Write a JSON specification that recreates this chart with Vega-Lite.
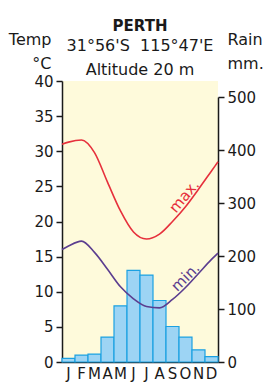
{
  "$schema": "https://vega.github.io/schema/vega-lite/v6.json",
  "width": 156,
  "height": 281,
  "autosize": "none",
  "padding": {"left": 62, "top": 81, "right": 53, "bottom": 22},
  "background": "white",
  "config": {
    "view": {"fill": "#FEFADB", "stroke": null},
    "font": "DejaVu Sans"
  },
  "title": {
    "text": "PERTH",
    "subtitle": ["31°56'S\u00a0\u00a0115°47'E", "Altitude 20\u00a0m"],
    "anchor": "middle",
    "frame": "group",
    "font": "DejaVu Sans",
    "fontSize": 15,
    "fontWeight": "bold",
    "color": "#1a1a1a",
    "subtitleFont": "DejaVu Sans",
    "subtitleFontSize": 16,
    "subtitleColor": "#1a1a1a",
    "subtitleLineHeight": 24,
    "subtitlePadding": 4,
    "offset": -47
  },
  "datasets": {
    "rain": [
      {"month": "Jan", "rain": 7},
      {"month": "Feb", "rain": 13},
      {"month": "Mar", "rain": 15},
      {"month": "Apr", "rain": 47},
      {"month": "May", "rain": 106},
      {"month": "Jun", "rain": 173},
      {"month": "Jul", "rain": 164},
      {"month": "Aug", "rain": 116},
      {"month": "Sep", "rain": 67},
      {"month": "Oct", "rain": 47},
      {"month": "Nov", "rain": 23},
      {"month": "Dec", "rain": 10}
    ],
    "temp": [
      {"t": 0, "tmax": 31.0, "tmin": 16.0},
      {"t": 0.5, "tmax": 31.3, "tmin": 16.5},
      {"t": 1.5, "tmax": 31.6, "tmin": 17.2},
      {"t": 2.5, "tmax": 29.8, "tmin": 15.6},
      {"t": 3.5, "tmax": 25.6, "tmin": 13.2},
      {"t": 4.5, "tmax": 21.5, "tmin": 10.7},
      {"t": 5.5, "tmax": 18.5, "tmin": 9.0},
      {"t": 6.5, "tmax": 17.5, "tmin": 7.9},
      {"t": 7.5, "tmax": 18.2, "tmin": 7.7},
      {"t": 8.5, "tmax": 20.0, "tmin": 8.9},
      {"t": 9.5, "tmax": 22.1, "tmin": 10.6},
      {"t": 10.5, "tmax": 24.6, "tmin": 12.6},
      {"t": 11.5, "tmax": 27.2, "tmin": 14.6},
      {"t": 12, "tmax": 28.5, "tmin": 15.5}
    ],
    "labels": [
      {"t": 9.4, "temp": 23.6, "label": "max.", "series": "tmax"},
      {"t": 9.5, "temp": 12.1, "label": "min.", "series": "tmin"}
    ]
  },
  "resolve": {"scale": {"x": "independent", "y": "independent"}, "axis": {"x": "independent", "y": "independent"}},
  "layer": [
    {
      "data": {"name": "rain"},
      "mark": {"type": "bar", "fill": "#9DD4F4", "stroke": "#1BA1E2", "strokeWidth": 1.2},
      "encoding": {
        "x": {
          "field": "month", "type": "ordinal", "sort": null,
          "scale": {"paddingInner": 0, "paddingOuter": 0},
          "axis": {
            "title": null, "labelAngle": 0, "ticks": false, "labelOverlap": false,
            "labelExpr": "substring(datum.label, 0, 1)",
            "labelFontSize": 15, "labelColor": "#1a1a1a", "labelPadding": 4,
            "domainColor": "#1a1a1a", "domainWidth": 1.5
          }
        },
        "y": {
          "field": "rain", "type": "quantitative",
          "scale": {"domain": [0, 500], "range": [281, 16], "nice": false},
          "axis": {
            "orient": "right", "values": [0, 100, 200, 300, 400, 500], "grid": false, "labelOverlap": false,
            "labelFontSize": 15, "labelColor": "#1a1a1a", "labelPadding": 3,
            "tickSize": 6, "tickColor": "#1a1a1a", "tickWidth": 1.5,
            "domainColor": "#1a1a1a", "domainWidth": 1.5,
            "title": ["Rain", "mm."], "titleAngle": 0, "titleAlign": "left",
            "titleBaseline": "alphabetic", "titleX": 9, "titleY": -37,
            "titleLineHeight": 24, "titleFontSize": 16, "titleFontWeight": "normal",
            "titleColor": "#1a1a1a"
          }
        }
      }
    },
    {
      "encoding": {
        "x": {"field": "t", "type": "quantitative", "scale": {"domain": [0, 12], "nice": false}, "axis": null},
        "y": {
          "field": "temp", "type": "quantitative",
          "scale": {"domain": [0, 40], "nice": false},
          "axis": {
            "orient": "left", "values": [0, 5, 10, 15, 20, 25, 30, 35, 40], "tickCount": 9, "grid": false, "labelOverlap": false,
            "labelFontSize": 15, "labelColor": "#1a1a1a", "labelPadding": 3,
            "tickSize": 6, "tickColor": "#1a1a1a", "tickWidth": 1.5,
            "domainColor": "#1a1a1a", "domainWidth": 1.5,
            "title": ["Temp", "°C"], "titleAngle": 0, "titleAlign": "right",
            "titleBaseline": "alphabetic", "titleX": -11, "titleY": -37,
            "titleLineHeight": 24, "titleFontSize": 16, "titleFontWeight": "normal",
            "titleColor": "#1a1a1a"
          }
        },
        "color": {
          "field": "series", "type": "nominal",
          "scale": {"domain": ["tmax", "tmin"], "range": ["#E6303C", "#5B3D8F"]},
          "legend": null
        }
      },
      "layer": [
        {
          "data": {"name": "temp"},
          "transform": [{"fold": ["tmax", "tmin"], "as": ["series", "temp"]}],
          "mark": {"type": "line", "strokeWidth": 1.6, "interpolate": "monotone"}
        },
        {
          "data": {"name": "labels"},
          "transform": [{"filter": "datum.series == 'tmax'"}],
          "mark": {"type": "text", "fontSize": 15, "angle": -50, "align": "center", "baseline": "middle"},
          "encoding": {"text": {"field": "label"}}
        },
        {
          "data": {"name": "labels"},
          "transform": [{"filter": "datum.series == 'tmin'"}],
          "mark": {"type": "text", "fontSize": 15, "angle": -45, "align": "center", "baseline": "middle"},
          "encoding": {"text": {"field": "label"}}
        }
      ]
    }
  ]
}
